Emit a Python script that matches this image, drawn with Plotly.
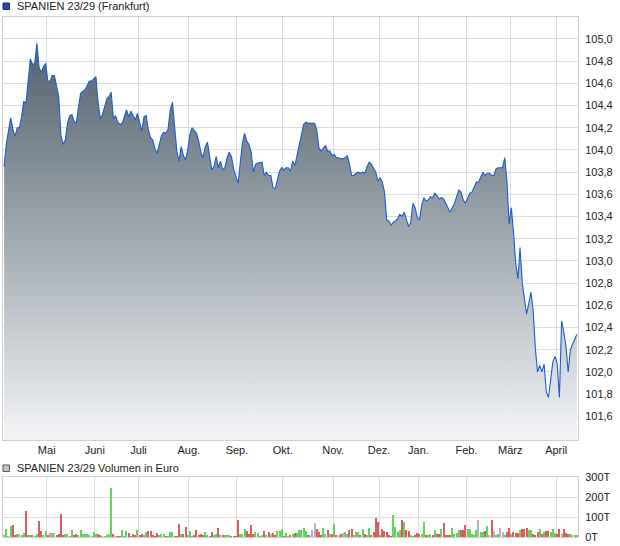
import pandas as pd
import plotly.graph_objects as go

# ---------------- data ----------------
start_date = "2024-04-03"
end_date = "2025-04-14"
holidays = ["2024-05-01", "2024-12-24", "2024-12-25", "2024-12-26",
            "2024-12-31", "2025-01-01"]

prices = [
    103.85, 104.05, 104.17, 104.29, 104.19, 104.12, 104.20, 104.20, 104.30, 104.44,
    104.42, 104.63, 104.82, 104.77, 104.78, 104.96, 104.74, 104.70, 104.75, 104.78,
    104.62, 104.62, 104.67, 104.67, 104.56, 104.48, 104.13, 104.05, 104.09, 104.24,
    104.31, 104.32, 104.26, 104.24, 104.38, 104.51, 104.53, 104.54, 104.58, 104.62,
    104.62, 104.64, 104.66, 104.43, 104.28, 104.32, 104.39, 104.46, 104.48, 104.52,
    104.28, 104.31, 104.25, 104.23, 104.24, 104.30, 104.36, 104.30, 104.35, 104.31,
    104.27, 104.33, 104.25, 104.17, 104.30, 104.31, 104.18, 104.11, 104.09, 104.01,
    103.97, 104.04, 104.13, 104.16, 104.15, 104.19, 104.36, 104.43, 104.22, 103.99,
    103.90, 104.03, 103.95, 103.91, 104.00, 104.14, 104.20, 104.17, 104.15, 104.08,
    103.98, 103.93, 104.03, 104.07, 103.92, 103.82, 103.85, 103.94, 103.84, 103.90,
    103.82, 103.84, 103.93, 103.98, 103.94, 103.83, 103.76, 103.70, 103.88, 104.06,
    104.15, 104.08, 104.05, 103.98, 103.80, 103.87, 103.88, 103.89, 103.89, 103.77,
    103.80, 103.77, 103.77, 103.66, 103.65, 103.74, 103.81, 103.84, 103.82, 103.84,
    103.84, 103.81, 103.90, 103.86, 103.96, 104.06, 104.13, 104.23, 104.25, 104.24,
    104.24, 104.24, 104.24, 104.18, 104.02, 103.99, 104.02, 104.04, 103.99, 103.99,
    103.95, 103.96, 103.93, 103.93, 103.92, 103.92, 103.93, 103.95, 103.87, 103.77,
    103.77, 103.79, 103.80, 103.79, 103.80, 103.79, 103.85, 103.89, 103.87, 103.83,
    103.80, 103.72, 103.75, 103.71, 103.62, 103.37, 103.36, 103.32, 103.35, 103.36,
    103.38, 103.42, 103.40, 103.44, 103.38, 103.31, 103.35, 103.52, 103.48, 103.39,
    103.37, 103.50, 103.57, 103.54, 103.55, 103.58, 103.57, 103.61, 103.59, 103.56,
    103.57, 103.56, 103.52, 103.48, 103.44, 103.48, 103.52, 103.58, 103.64, 103.62,
    103.55, 103.52, 103.57, 103.61, 103.62, 103.67, 103.71, 103.71, 103.76, 103.80,
    103.77, 103.79, 103.79, 103.77, 103.77, 103.83, 103.84, 103.84, 103.84, 103.93,
    103.72, 103.33, 103.48, 103.26, 102.98, 102.84, 103.12, 102.80, 102.65, 102.52,
    102.62, 102.72, 102.55, 102.21, 102.00, 102.06, 102.00, 102.07, 101.82, 101.77,
    101.93, 102.09, 102.14, 102.07, 101.77, 102.46, 102.36, 102.23, 102.00, 102.20,
    102.25, 102.30, 102.34,
]

# volume in thousand euro (T)
volumes = [
    8, 40, 5, 53, 58, 8, 15, 15, 12, 18,
    128, 8, 8, 8, 3, 17, 78, 28, 8, 28,
    12, 20, 20, 20, 8, 17, 113, 8, 15, 15,
    3, 33, 12, 17, 12, 33, 13, 13, 13, 8,
    2, 27, 17, 17, 10, 2, 2, 8, 17, 247,
    15, 5, 2, 3, 37, 5, 28, 20, 3, 13,
    8, 37, 8, 15, 7, 25, 28, 28, 7, 3,
    18, 7, 15, 15, 3, 2, 27, 25, 2, 3,
    63, 13, 15, 48, 8, 28, 3, 12, 33, 7,
    13, 8, 23, 7, 5, 25, 8, 13, 43, 7,
    10, 8, 8, 10, 2, 2, 3, 83, 17, 13,
    42, 30, 13, 58, 13, 23, 18, 5, 12, 28,
    8, 25, 13, 20, 8, 28, 32, 38, 2, 18,
    2, 8, 13, 18, 18, 37, 37, 47, 28, 8,
    12, 33, 70, 42, 25, 10, 43, 17, 33, 17,
    17, 63, 7, 10, 13, 20, 27, 17, 37, 38,
    10, 23, 23, 12, 38, 13, 8, 47, 12, 23,
    93, 73, 12, 38, 28, 25, 12, 2, 108, 48,
    23, 35, 83, 73, 33, 30, 7, 2, 7, 18,
    13, 17, 73, 12, 10, 13, 10, 33, 17, 13,
    40, 70, 12, 12, 8, 47, 17, 18, 33, 33,
    33, 60, 42, 42, 13, 10, 33, 83, 23, 23,
    30, 53, 8, 83, 30, 8, 13, 47, 23, 10,
    23, 43, 17, 27, 20, 20, 37, 40, 38, 43,
    33, 37, 17, 12, 27, 42, 17, 27, 30, 30,
    23, 42, 18, 13, 42, 17, 42, 20, 17, 13,
    10, 12, 12,
]

month_names = ["Mai", "Juni", "Juli", "Aug.", "Sep.", "Okt.", "Nov.",
               "Dez.", "Jan.", "Feb.", "März", "April"]
month_starts = ["2024-05-01", "2024-06-01", "2024-07-01", "2024-08-01",
                "2024-09-01", "2024-10-01", "2024-11-01", "2024-12-01",
                "2025-01-01", "2025-02-01", "2025-03-01", "2025-04-01"]

price_ticks = [101.6, 101.8, 102.0, 102.2, 102.4, 102.6, 102.8, 103.0, 103.2,
               103.4, 103.6, 103.8, 104.0, 104.2, 104.4, 104.6, 104.8, 105.0]
volume_ticks = [0, 100, 200, 300]

# ---------------- derived ----------------
dates = pd.bdate_range(start_date, end_date)
dates = dates[~dates.isin(pd.to_datetime(holidays))]
n = min(len(dates), len(prices), len(volumes))
dates = dates[:n]
prices = prices[:n]
volumes = volumes[:n]
idx = list(range(n))

# month boundaries in trading-day units
tick_pos = [int((dates < pd.Timestamp(m)).sum()) - 0.5 for m in month_starts]

GREEN = "#5fd65a"
RED = "#e05c5c"
GRAY = "#b4b4b4"
bar_colors = [GRAY]
for a, b in zip(prices[:-1], prices[1:]):
    bar_colors.append(GREEN if b > a else (RED if b < a else GRAY))

y_lo, y_hi = 101.387, 105.198

fig = go.Figure()
fig.add_trace(go.Scatter(
    x=idx, y=prices, mode="lines",
    line=dict(color="#1f5bd0", width=1.1),
    fill="tozeroy",
    fillgradient=dict(type="vertical",
                      colorscale=[[0, "#f3f4f6"], [1, "#4f606c"]],
                      start=y_lo, stop=105.0),
    customdata=[d.strftime("%d.%m.%Y") for d in dates],
    hovertemplate="%{customdata}: %{y:.2f}<extra></extra>",
    xaxis="x", yaxis="y", showlegend=False,
))
fig.add_trace(go.Bar(
    x=idx, y=volumes, marker=dict(color=bar_colors, line=dict(width=0)),
    width=0.5, xaxis="x2", yaxis="y2", showlegend=False,
    customdata=[d.strftime("%d.%m.%Y") for d in dates],
    hovertemplate="%{customdata}: %{y}T<extra></extra>",
))

GRID = "#dcdcdc"
FRAME = "#cfcfcf"
FONT = dict(family="Liberation Sans, Arial, sans-serif", size=11, color="#222222")

common_x = dict(range=[-0.5, n - 0.5], tickvals=tick_pos, ticktext=month_names,
                showgrid=True, gridcolor=GRID, gridwidth=1, zeroline=False,
                showline=True, mirror=True, linecolor=FRAME, linewidth=1,
                ticks="", fixedrange=True)

fig.update_layout(
    width=620, height=546,
    margin=dict(l=3, r=42, t=17, b=9),
    paper_bgcolor="white", plot_bgcolor="white",
    font=FONT,
    bargap=0,
    xaxis=dict(domain=[0, 1], anchor="y", showticklabels=True, **common_x),
    xaxis2=dict(domain=[0, 1], anchor="y2", showticklabels=False, **common_x),
    yaxis=dict(domain=[0.18654, 1], side="right", range=[y_lo, y_hi],
               tickvals=price_ticks,
               ticktext=[f"{v:.1f}".replace(".", ",") for v in price_ticks],
               showgrid=True, gridcolor=GRID, zeroline=False,
               showline=True, mirror=True, linecolor=FRAME,
               ticks="", ticklabelstandoff=4, fixedrange=True),
    yaxis2=dict(domain=[0, 0.11538], side="right", range=[0, 300],
                tickvals=volume_ticks,
                ticktext=[f"{v}T" for v in volume_ticks],
                showgrid=True, gridcolor=GRID, zeroline=False,
                showline=True, mirror=True, linecolor=FRAME,
                ticks="", ticklabelstandoff=4, fixedrange=True),
    shapes=[
        dict(type="rect", xref="paper", yref="paper",
             x0=0.0, x1=0.0113, y0=1.0144, y1=1.0269,
             fillcolor="#1f4fae", line=dict(color="#1b2f66", width=1)),
        dict(type="rect", xref="paper", yref="paper",
             x0=0.0, x1=0.0113, y0=0.1260, y1=0.1385,
             fillcolor="#c4c4c4", line=dict(color="#555555", width=1)),
    ],
    annotations=[
        dict(text="SPANIEN 23/29 (Frankfurt)", xref="paper", yref="paper",
             x=0.0209, y=1.0212, xanchor="left", yanchor="middle",
             showarrow=False, font=FONT),
        dict(text="SPANIEN 23/29 Volumen in Euro", xref="paper", yref="paper",
             x=0.0209, y=0.1327, xanchor="left", yanchor="middle",
             showarrow=False, font=FONT),
    ],
)

fig.write_html("out.html",
               config={"displayModeBar": False},
               post_script="document.body.style.margin='0px';"
                           "document.body.style.overflow='hidden';")
